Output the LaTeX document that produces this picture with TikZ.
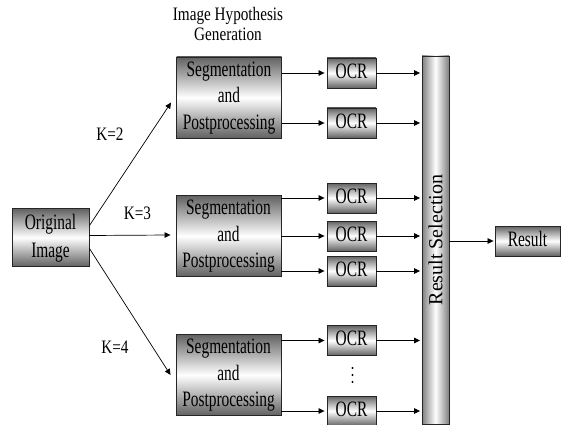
\documentclass[tikz,border=0pt]{standalone}
\usepackage{fontspec}
\setmainfont{Liberation Serif}
\usetikzlibrary{arrows.meta}

% squeezed text, as in the reference
\newcommand\narrow[2][0.7]{\scalebox{#1}[1]{\begin{tabular}{@{}c@{}}#2\end{tabular}}}

\tikzset{
  shadebox/.style={draw=black!85, line width=0.9pt, inner sep=0pt, align=center,
    top color=black!62, bottom color=black!62, middle color=white,
    font=\fontsize{22}{26.5}\selectfont},
  segbox/.style={shadebox, minimum width=105pt, minimum height=81pt},
  ocrbox/.style={shadebox, minimum width=49pt, minimum height=30pt},
  selbar/.style={draw=black!85, line width=0.9pt, inner sep=0pt,
    left color=black!50, right color=black!50, middle color=white,
    minimum width=27pt, minimum height=368pt},
  arr/.style={-{Triangle[length=6pt,width=5.5pt]}, line width=0.7pt},
  klabel/.style={font=\fontsize{19}{20}\selectfont, inner sep=0pt}
}

\begin{document}
\begin{tikzpicture}[x=1pt, y=-1pt]
  \useasboundingbox (0,0) rectangle (562,425);

  %%%%% boxes %%%%%
  \node[klabel] (title) at (228,27) {\narrow[0.8]{Image Hypothesis\\Generation}};

  \node[shadebox, minimum width=77pt, minimum height=58pt,
        font=\fontsize{22}{28}\selectfont] (orig) at (50.5,237.5) {\narrow{Original\\Image}};

  \node[segbox] (seg1) at (229,97.5) {\narrow{Segmentation\\and\\Postprocessing}};
  \node[segbox] (seg2) at (228.5,236) {\narrow{Segmentation\\and\\Postprocessing}};
  \node[segbox] (seg3) at (228.5,375) {\narrow{Segmentation\\and\\Postprocessing}};

  \node[ocrbox] (ocr1) at (351.5,73) {\narrow{OCR}};
  \node[ocrbox] (ocr2) at (351.5,123) {\narrow{OCR}};
  \node[ocrbox] (ocr3) at (351.5,198) {\narrow{OCR}};
  \node[ocrbox] (ocr4) at (351.5,236) {\narrow{OCR}};
  \node[ocrbox] (ocr5) at (351.5,271) {\narrow{OCR}};
  \node[ocrbox] (ocr6) at (351.5,340.5) {\narrow{OCR}};
  \node[ocrbox] (ocr7) at (351.5,411) {\narrow{OCR}};

  \node (dots) at (352.5,375) {};
  \foreach \d in {-7,0,7}
    \fill ([yshift=\d pt]dots.center) circle (1.1pt);

  \node[selbar] (sel) at (435.5,240)
    {\rotatebox{90}{\fontsize{20}{24}\selectfont Result Selection}};

  \node[shadebox, minimum width=65pt, minimum height=30pt] (res) at (527.5,241) {\narrow{Result}};

  %%%%% K branches %%%%%
  \draw[arr] ([yshift=12pt]orig.east) -- ([xshift=-5pt,yshift=-5pt]seg1.west);
  \draw[arr] ([yshift=2pt]orig.east) -- ([xshift=-5pt,yshift=1pt]seg2.west);
  \draw[arr] ([yshift=-11pt]orig.east) -- ([xshift=-5pt]seg3.west);

  \node[klabel] (k2) at (110,137) {\narrow[0.8]{K=2}};
  \node[klabel] (k3) at (137.5,215) {\narrow[0.8]{K=3}};
  \node[klabel] (k4) at (115,349) {\narrow[0.8]{K=4}};

  %%%%% segmentation to OCR to selection %%%%%
  \foreach \s/\o in {seg1/ocr1, seg1/ocr2, seg2/ocr3, seg2/ocr4, seg2/ocr5, seg3/ocr6, seg3/ocr7} {
    \draw[arr, shorten >=2pt] (\s.east |- \o.west) -- (\o.west);
    \draw[arr, shorten >=1.5pt] (\o.east) -- (sel.west |- \o.east);
  }

  \draw[arr, shorten >=1pt] (sel.east |- res.west) -- (res.west);
\end{tikzpicture}
\end{document}
